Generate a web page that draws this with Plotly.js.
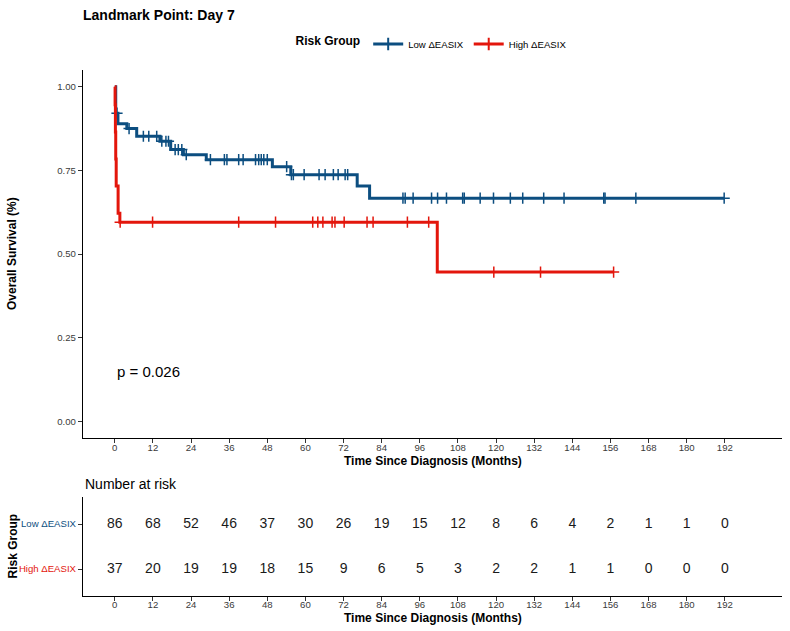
<!DOCTYPE html>
<html>
<head>
<meta charset="utf-8">
<script src="https://cdn.plot.ly/plotly-3.0.1.min.js"></script>
<style>
  html, body { margin: 0; padding: 0; background: #fff; }
  #chart { width: 790px; height: 631px; }
</style>
</head>
<body>
<div id="chart"></div>
<script>
// Kaplan-Meier estimates, landmark at day 7 (months since diagnosis)
const lowTimes = [0, 0.3, 1.0, 3.8, 6.9, 14.2, 17.6, 21.6, 28.8, 49.6, 55.4, 76.3, 80.2];
const lowSurv  = [1, 0.921, 0.889, 0.875, 0.852, 0.837, 0.812, 0.797, 0.782, 0.761, 0.737, 0.703, 0.667];
const lowLast  = 191.8;
const lowCensor = [0.7, 4.5, 9.0, 10.7, 13.2, 14.8, 16.1, 16.9, 19.0, 20.0, 21.1, 22.5, 30.1, 34.5, 35.3,
  39.0, 40.4, 44.3, 45.3, 46.1, 46.9, 48.0, 54.1, 55.6, 56.2, 59.6, 64.3, 66.2, 68.8, 70.3, 72.5, 73.3,
  90.7, 91.4, 93.9, 99.7, 101.6, 104.4, 109.5, 110.0, 115.0, 119.2, 124.5, 128.4, 135.0, 141.4,
  153.9, 154.3, 164.0, 191.8];

const highTimes = [0, 0.1, 0.2, 0.3, 0.45, 1.05, 1.6, 101.5];
const highSurv  = [1, 0.946, 0.865, 0.784, 0.703, 0.622, 0.595, 0.446];
const highLast  = 157.0;
const highCensor = [1.7, 11.9, 39.0, 50.6, 62.3, 63.9, 65.5, 68.4, 69.3, 72.2, 79.4, 81.3, 92.1, 98.8,
  119.3, 134.0, 157.0];

// Number at risk table
const riskTimes = [0, 12, 24, 36, 48, 60, 72, 84, 96, 108, 120, 132, 144, 156, 168, 180, 192];
const lowRisk  = [86, 68, 52, 46, 37, 30, 26, 19, 15, 12, 8, 6, 4, 2, 1, 1, 0];
const highRisk = [37, 20, 19, 19, 18, 15, 9, 6, 5, 3, 2, 2, 1, 1, 0, 0, 0];

const groupNames = ['Low \u0394EASIX', 'High \u0394EASIX'];
const colors = ['#0c4e80', '#e3160c'];
const FONT = 'Liberation Sans, Arial, Helvetica, sans-serif';

// survival value of a step function at time t
function survAt(times, surv, t) {
  let s = surv[0];
  for (let i = 0; i < times.length; i++) { if (times[i] <= t) s = surv[i]; }
  return s;
}

function stepTrace(times, surv, last, color) {
  return {
    x: times.concat([last]), y: surv.concat([surv[surv.length - 1]]),
    mode: 'lines', line: {shape: 'hv', color: color, width: 3},
    showlegend: false, hoverinfo: 'skip', xaxis: 'x', yaxis: 'y'
  };
}
function censorTrace(times, surv, cens, color) {
  return {
    x: cens, y: cens.map(t => survAt(times, surv, t)),
    mode: 'markers', marker: {symbol: 'cross-thin', size: 8, line: {width: 1.5, color: color}, color: color},
    showlegend: false, hoverinfo: 'skip', xaxis: 'x', yaxis: 'y', cliponaxis: false
  };
}
function legendTrace(name, color) {
  return {
    x: [null], y: [null], name: name, mode: 'lines+markers',
    line: {color: color, width: 3},
    marker: {symbol: 'cross-thin', size: 9, line: {width: 2, color: color}, color: color},
    xaxis: 'x', yaxis: 'y'
  };
}

const traces = [
  stepTrace(lowTimes, lowSurv, lowLast, colors[0]),
  censorTrace(lowTimes, lowSurv, lowCensor, colors[0]),
  stepTrace(highTimes, highSurv, highLast, colors[1]),
  censorTrace(highTimes, highSurv, highCensor, colors[1]),
  legendTrace(groupNames[0], colors[0]),
  legendTrace(groupNames[1], colors[1]),
  {
    x: riskTimes.concat(riskTimes),
    y: riskTimes.map(() => 2).concat(riskTimes.map(() => 1)),
    text: lowRisk.concat(highRisk).map(String),
    mode: 'text', textfont: {family: FONT, size: 14, color: '#1a1a1a'},
    showlegend: false, hoverinfo: 'skip', xaxis: 'x2', yaxis: 'y2', cliponaxis: false
  }
];

// pixel helpers for paper coordinates (plot area 83..782 x 70..596)
const L = 83, R = 8, T = 70, B = 35, W = 790, H = 631;
const pw = W - L - R, ph = H - T - B;
const xp = px => (px - L) / pw;
const yp = py => (H - B - py) / ph;

const axisStyle = {
  showline: true, linecolor: '#000', linewidth: 1.1, mirror: false,
  ticks: 'outside', ticklen: 4, tickwidth: 1, tickcolor: '#333',
  tickfont: {family: FONT, size: 9.6, color: '#3a3a3a'},
  showgrid: false, zeroline: false, fixedrange: true
};

const layout = {
  width: W, height: H,
  margin: {l: L, r: R, t: T, b: B},
  paper_bgcolor: '#fff', plot_bgcolor: '#fff',
  font: {family: FONT, color: '#000'},
  title: {
    text: '<b>Landmark Point: Day 7</b>', xref: 'container', yref: 'container',
    x: L / W, xanchor: 'left', y: 1 - 15 / H, yanchor: 'middle',
    font: {family: FONT, size: 14, color: '#000'}
  },
  showlegend: true,
  legend: {
    orientation: 'h', x: 0.5, xanchor: 'center', y: yp(44), yanchor: 'middle',
    title: {text: '<b>Risk Group</b>', side: 'left', font: {family: FONT, size: 12, color: '#000'}},
    font: {family: FONT, size: 9.6, color: '#000'}, itemwidth: 30, bgcolor: 'rgba(0,0,0,0)'
  },
  xaxis: Object.assign({}, axisStyle, {
    domain: [0, 1], range: [-10, 210], tickvals: riskTimes, anchor: 'y', ticklabelstandoff: -4
  }),
  yaxis: Object.assign({}, axisStyle, {
    domain: [yp(438), 1], range: [-0.05, 1.05], tickvals: [0, 0.25, 0.5, 0.75, 1],
    tickformat: '.2f', anchor: 'x'
  }),
  xaxis2: Object.assign({}, axisStyle, {
    domain: [0, 1], range: [-10, 210], tickvals: riskTimes, anchor: 'y2', ticklabelstandoff: -5
  }),
  yaxis2: Object.assign({}, axisStyle, {
    domain: [0, yp(497)], range: [0.4, 2.6], tickvals: [2, 1],
    ticktext: [
      '<span style="color:' + colors[0] + '">' + groupNames[0] + '</span>',
      '<span style="color:' + colors[1] + '">' + groupNames[1] + '</span>'
    ],
    anchor: 'x2'
  }),
  annotations: [
    {text: '<b>Time Since Diagnosis (Months)</b>', xref: 'paper', yref: 'paper', x: 0.5, y: yp(461),
     xanchor: 'center', yanchor: 'middle', showarrow: false, font: {family: FONT, size: 12, color: '#000'}},
    {text: '<b>Time Since Diagnosis (Months)</b>', xref: 'paper', yref: 'paper', x: 0.5, y: yp(618),
     xanchor: 'center', yanchor: 'middle', showarrow: false, font: {family: FONT, size: 12, color: '#000'}},
    {text: '<b>Overall Survival (%)</b>', xref: 'paper', yref: 'paper', x: xp(12), y: yp(254),
     xanchor: 'center', yanchor: 'middle', textangle: -90, showarrow: false,
     font: {family: FONT, size: 12, color: '#000'}},
    {text: '<b>Risk Group</b>', xref: 'paper', yref: 'paper', x: xp(12), y: yp(546.5),
     xanchor: 'center', yanchor: 'middle', textangle: -90, showarrow: false,
     font: {family: FONT, size: 12, color: '#000'}},
    {text: 'Number at risk', xref: 'paper', yref: 'paper', x: 0, y: yp(484),
     xanchor: 'left', yanchor: 'middle', showarrow: false, font: {family: FONT, size: 14, color: '#000'}},
    {text: 'p = 0.026', xref: 'x', yref: 'y', x: 0, y: 0.15,
     xanchor: 'left', yanchor: 'middle', showarrow: false, font: {family: FONT, size: 15, color: '#000'}}
  ]
};

Plotly.newPlot('chart', traces, layout, {displayModeBar: false, staticPlot: true});
</script>
</body>
</html>
